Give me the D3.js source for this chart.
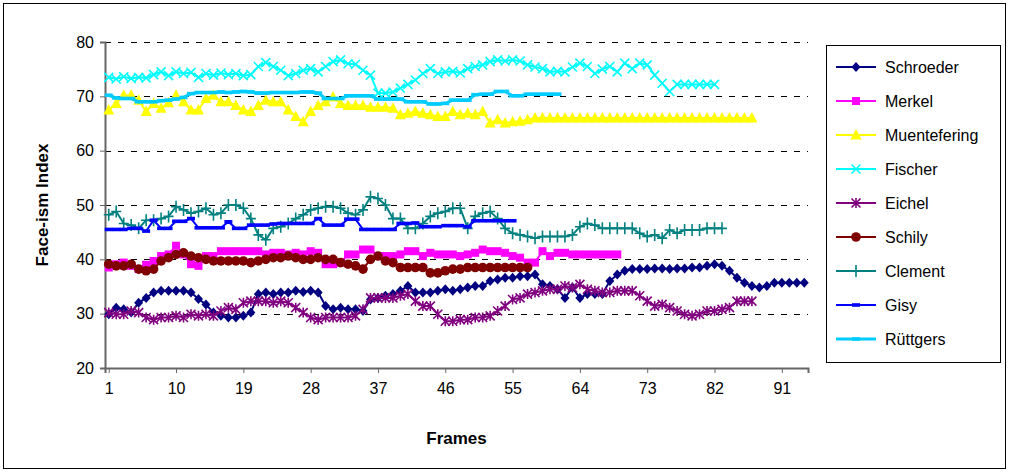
<!DOCTYPE html>
<meta charset="utf-8">
<script src="https://cdn.jsdelivr.net/npm/d3@7"></script>
<style>
  body { margin: 0; background: #fff; }
  text { font-family: Arial, "Liberation Sans", sans-serif; }
</style>
<body>
<script>

var width = 1010
var height = 472

// frames 1..94
var frames = d3.range(1, 95)
var yTicks = [20, 30, 40, 50, 60, 70, 80]
var xTickLabels = [1, 10, 19, 28, 37, 46, 55, 64, 73, 82, 91]

var schroeder = [29.9, 31.1, 30.8, 30.2, 32.0, 32.9, 33.9, 34.2, 34.2, 34.2, 34.2, 33.9, 32.7, 31.7, 30.2, 29.6, 29.3, 29.3, 29.6, 30.2,
  33.6, 33.9, 33.6, 33.9, 33.9, 34.2, 34.0, 34.2, 33.9, 31.4, 30.8, 31.1, 30.8, 30.8, 30.5, 32.6, 32.9, 33.3, 33.6, 34.2,
  35.1, 33.9, 33.9, 33.9, 34.2, 34.5, 34.2, 34.5, 34.8, 35.1, 35.1, 36.0, 36.3, 36.6, 36.6, 36.9, 36.9, 37.2, 35.4, 35.1,
  34.5, 32.9, 34.8, 32.9, 33.6, 33.6, 33.6, 36.0, 37.2, 37.9, 38.2, 38.2, 38.2, 38.3, 38.3, 38.2, 38.3, 38.3, 38.5, 38.5,
  38.8, 39.1, 38.8, 37.9, 36.6, 35.7, 35.1, 34.8, 35.1, 35.7, 35.7, 35.7, 35.7, 35.7]
var merkel = [38.5, 39.1, 39.4, 38.8, 38.2, 39.0, 39.7, 40.6, 40.9, 42.5, 40.9, 39.1, 38.8, 40.6, 40.6, 41.5, 41.5, 41.5, 41.5, 41.5,
  41.5, 40.9, 41.2, 41.2, 40.9, 41.2, 40.9, 41.5, 41.2, 39.1, 39.1, 39.4, 40.9, 40.9, 41.8, 41.8, 40.6, 40.6, 40.6, 40.9,
  41.5, 41.5, 40.6, 41.2, 40.9, 40.9, 40.9, 40.6, 40.9, 41.2, 41.8, 41.5, 41.5, 41.2, 40.6, 40.3, 39.4, 39.4, 41.5, 40.6,
  41.2, 41.2, 40.9, 40.9, 40.9, 40.9, 40.9, 40.9, 40.9]
var muentefering = [67.5, 68.7, 70.2, 70.2, 69.3, 67.2, 68.7, 67.8, 68.8, 70.2, 69.0, 67.5, 67.5, 69.6, 70.2, 69.0, 69.0, 68.3, 67.5, 67.2,
  68.3, 69.3, 69.0, 69.0, 67.5, 66.3, 65.3, 67.2, 68.3, 69.0, 69.9, 68.7, 68.3, 68.3, 68.3, 68.0, 68.0, 68.0, 67.8, 66.6,
  66.9, 67.2, 66.9, 66.6, 66.3, 66.3, 67.2, 66.6, 66.9, 66.6, 67.2, 65.1, 65.7, 65.1, 65.3, 65.4, 65.7, 66.0, 66.0, 66.0,
  66.0, 66.0, 66.0, 66.0, 66.0, 66.0, 66.0, 66.0, 66.0, 66.0, 66.0, 66.0, 66.0, 66.0, 66.0, 66.0, 66.0, 66.0, 66.0, 66.0,
  66.0, 66.0, 66.0, 66.0, 66.0, 66.0, 66.0]
var fischer = [73.5, 73.2, 73.6, 73.3, 73.5, 73.4, 74.0, 74.5, 73.8, 74.5, 74.2, 74.4, 73.5, 74.2, 73.9, 74.3, 74.0, 74.2, 73.8, 74.0,
  75.5, 76.2, 75.5, 74.8, 73.8, 74.2, 74.8, 75.1, 74.5, 75.5, 76.4, 76.7, 76.0, 75.9, 74.8, 73.9, 70.6, 70.6, 70.8, 71.5,
  72.2, 73.0, 74.2, 75.1, 74.2, 74.5, 74.6, 74.3, 75.1, 75.5, 75.8, 76.4, 76.7, 76.5, 76.7, 76.5, 75.8, 75.4, 75.1, 74.5,
  74.6, 74.5, 75.4, 76.1, 75.5, 74.2, 75.0, 75.5, 74.5, 76.1, 75.1, 76.1, 75.8, 73.9, 72.4, 70.9, 72.2, 72.2, 72.2, 72.2,
  72.2, 72.2]
var eichel = [30.2, 29.9, 29.9, 30.5, 30.2, 29.3, 28.9, 29.3, 29.3, 29.6, 29.3, 29.9, 29.6, 29.9, 29.6, 30.5, 31.1, 30.8, 32.0, 32.3,
  32.3, 32.3, 32.0, 32.3, 32.0, 31.1, 30.2, 29.3, 28.9, 29.3, 29.3, 29.3, 29.3, 29.6, 30.8, 32.9, 32.9, 32.9, 32.9, 33.3,
  33.6, 32.3, 31.4, 31.4, 29.9, 28.6, 28.6, 28.9, 28.9, 29.3, 29.3, 29.6, 30.5, 31.4, 32.6, 32.9, 33.6, 33.9, 34.2, 34.5,
  34.5, 35.1, 34.8, 35.4, 34.5, 34.2, 33.9, 33.9, 34.2, 34.2, 34.2, 33.3, 32.3, 31.4, 31.7, 31.1, 30.5, 29.9, 29.6, 29.9,
  30.5, 30.5, 30.8, 31.1, 32.3, 32.3, 32.3]
var schily = [39.1, 38.8, 38.8, 39.1, 38.2, 37.9, 38.2, 39.7, 40.3, 40.9, 41.2, 40.6, 40.3, 40.0, 39.7, 39.7, 39.7, 39.7, 39.7, 39.4,
  39.7, 40.0, 40.3, 40.3, 40.6, 40.3, 40.0, 40.0, 40.3, 40.0, 40.0, 39.4, 39.1, 38.8, 38.2, 40.0, 40.6, 39.7, 39.4, 38.5,
  38.5, 38.5, 38.5, 37.5, 37.5, 37.9, 38.2, 38.2, 38.5, 38.5, 38.5, 38.5, 38.5, 38.5, 38.5, 38.5, 38.5]
var clement = [48.2, 48.8, 46.6, 46.3, 45.7, 47.2, 47.2, 47.5, 47.9, 49.7, 49.1, 48.5, 48.8, 49.4, 48.2, 48.5, 50.0, 50.0, 49.4, 47.5,
  44.5, 43.6, 45.7, 46.0, 46.6, 47.5, 48.2, 49.1, 49.4, 49.7, 49.7, 49.4, 48.5, 48.2, 49.1, 51.5, 51.2, 50.0, 47.5, 47.5,
  45.7, 45.7, 46.6, 47.9, 48.5, 48.8, 49.4, 49.4, 45.7, 47.9, 48.5, 48.8, 47.5, 45.7, 44.8, 44.5, 44.2, 43.9, 44.2, 44.2,
  44.2, 44.2, 44.5, 46.0, 46.6, 46.3, 45.7, 45.7, 45.7, 45.7, 45.7, 44.8, 44.2, 44.5, 43.9, 45.4, 44.8, 45.4, 45.4, 45.4,
  45.7, 45.7, 45.7]
var gisy = [45.5, 45.5, 45.5, 45.7, 45.7, 45.2, 47.2, 45.7, 45.7, 47.0, 47.0, 47.5, 45.8, 45.8, 45.8, 45.8, 46.9, 45.7, 45.7, 46.3,
  46.3, 46.3, 46.5, 46.6, 46.6, 46.6, 46.6, 46.6, 47.5, 46.3, 46.3, 46.3, 47.4, 47.4, 45.5, 45.5, 45.5, 45.5, 45.5, 46.6,
  46.6, 46.7, 46.0, 46.0, 46.0, 46.2, 46.2, 46.2, 46.0, 47.1, 47.1, 47.1, 47.1, 47.1, 47.1]
var ruettgers = [70.2, 69.7, 69.6, 69.6, 69.0, 69.0, 69.0, 69.2, 69.3, 69.5, 69.8, 70.5, 70.7, 70.7, 70.7, 70.8, 70.7, 70.8, 70.9, 70.8,
  70.6, 70.6, 70.7, 70.7, 70.7, 70.7, 70.8, 70.8, 70.6, 69.6, 69.6, 69.6, 70.1, 70.1, 70.1, 70.1, 69.5, 69.5, 69.5, 69.5,
  69.0, 69.0, 69.0, 68.6, 68.6, 68.7, 69.3, 69.3, 69.3, 70.3, 70.4, 70.4, 70.9, 70.9, 70.1, 70.1, 70.4, 70.4, 70.4, 70.4,
  70.4]

var names = ["Schroeder", "Merkel", "Muentefering", "Fischer", "Eichel", "Schily", "Clement", "Gisy", "Rüttgers"]
var values = [schroeder, merkel, muentefering, fischer, eichel, schily, clement, gisy, ruettgers]
var colors = ["#000080", "#ff00ff", "#ffff00", "#00ffff", "#800080", "#800000", "#008080", "#0000ff", "#00ccff"]
var markers = ["diamond", "square", "triangle", "cross", "star", "circle", "plus", "dash", "dash"]

var series = names.map(function(n, i) {
  return { name: n, color: colors[i], marker: markers[i],
           data: values[i].map(function(v, j) { return { f: frames[j], v: v } }) }
})

var plotLeft = 105, plotRight = 808, plotTop = 42, plotBottom = 368

var x = d3.scalePoint().domain(frames).range([plotLeft, plotRight]).padding(0.5)
var y = d3.scaleLinear().domain([20, 80]).range([plotBottom, plotTop])

var svg = d3.select("body").append("svg")
            .attr("width", width)
            .attr("height", height)
            .style("display", "block")

// outer chart border
svg.append("rect")
   .attr("x", 3.5).attr("y", 3.5)
   .attr("width", 1002).attr("height", 465)
   .attr("fill", "#fff").attr("stroke", "#000").attr("stroke-width", 1)

// gridlines
svg.append("g").selectAll("line")
   .data(yTicks.filter(function(d) { return d > 20 }))
   .join("line")
   .attr("x1", plotLeft).attr("x2", plotRight)
   .attr("y1", function(d) { return Math.round(y(d)) + 0.5 })
   .attr("y2", function(d) { return Math.round(y(d)) + 0.5 })
   .attr("stroke", "#000").attr("stroke-dasharray", "6,7")

// y axis
var yAxis = svg.append("g")
    .attr("transform", "translate(" + plotLeft + ",0)")
    .call(d3.axisLeft(y).tickValues(yTicks).tickSize(5).tickPadding(6))
yAxis.select(".domain").attr("stroke", "#666").attr("stroke-width", 2)
yAxis.selectAll(".tick line").attr("stroke", "#666")
yAxis.selectAll("text").style("font-size", "16px").attr("fill", "#000")

// x axis
var xAxis = svg.append("g")
    .attr("transform", "translate(0," + plotBottom + ")")
    .call(d3.axisBottom(x).tickValues(xTickLabels).tickSize(5).tickPadding(10))
xAxis.select(".domain").attr("stroke", "#666").attr("stroke-width", 2)
xAxis.selectAll(".tick line").attr("stroke", "#666")
xAxis.selectAll("text").style("font-size", "16px").attr("fill", "#000")

svg.append("text")
   .attr("transform", "translate(48," + ((plotTop + plotBottom) / 2) + ") rotate(-90)")
   .attr("text-anchor", "middle")
   .style("font-size", "17px").style("font-weight", "bold")
   .text("Face-ism Index")

svg.append("text")
   .attr("x", (plotLeft + plotRight) / 2).attr("y", 444)
   .attr("text-anchor", "middle")
   .style("font-size", "17px").style("font-weight", "bold")
   .text("Frames")

function drawMarker(g, m, c) {
  if (m == "diamond") g.append("path").attr("d", "M0,-5L4.5,0L0,5L-4.5,0Z").attr("fill", c)
  else if (m == "square") g.append("rect").attr("x", -4).attr("y", -4).attr("width", 8).attr("height", 8).attr("fill", c)
  else if (m == "triangle") g.append("path").attr("d", "M0,-6L5.5,4.5L-5.5,4.5Z").attr("fill", c)
  else if (m == "circle") g.append("circle").attr("r", 4.8).attr("fill", c)
  else if (m == "dash") g.append("rect").attr("x", -4).attr("y", -1.8).attr("width", 8).attr("height", 3.6).attr("fill", c)
  else {
    var d = ""
    if (m == "cross" || m == "star") d += "M-4.5,-4.5L4.5,4.5M-4.5,4.5L4.5,-4.5"
    if (m == "star") d += "M0,-5L0,5"
    if (m == "plus") d += "M0,-6L0,6M-5,0L5,0"
    g.append("path").attr("d", d).attr("stroke", c).attr("stroke-width", 1.6).attr("fill", "none")
  }
}

var line = d3.line().x(function(d) { return x(d.f) }).y(function(d) { return y(d.v) })

var plot = svg.append("g")
series.forEach(function(s) {
  var g = plot.append("g")
  g.append("path").attr("d", line(s.data))
   .attr("fill", "none").attr("stroke", s.color)
   .attr("stroke-width", s.name == "Rüttgers" ? 3 : 2)
  g.selectAll("g.pt").data(s.data).join("g")
   .attr("class", "pt")
   .attr("transform", function(d) { return "translate(" + x(d.f) + "," + y(d.v) + ")" })
   .each(function() { drawMarker(d3.select(this), s.marker, s.color) })
})

// legend
var legend = svg.append("g")
legend.append("rect")
   .attr("x", 826.5).attr("y", 45.5).attr("width", 174).attr("height", 317)
   .attr("fill", "#fff").attr("stroke", "#000")

series.forEach(function(s, i) {
  var ly = 67 + i * 34
  var g = legend.append("g")
  g.append("line").attr("x1", 836).attr("x2", 876).attr("y1", ly).attr("y2", ly)
   .attr("stroke", s.color).attr("stroke-width", s.name == "Rüttgers" ? 3 : 2)
  drawMarker(g.append("g").attr("transform", "translate(856," + ly + ")"), s.marker, s.color)
  g.append("text").attr("x", 885).attr("y", ly + 6)
   .style("font-size", "16px").text(s.name)
})

</script>
</body>
